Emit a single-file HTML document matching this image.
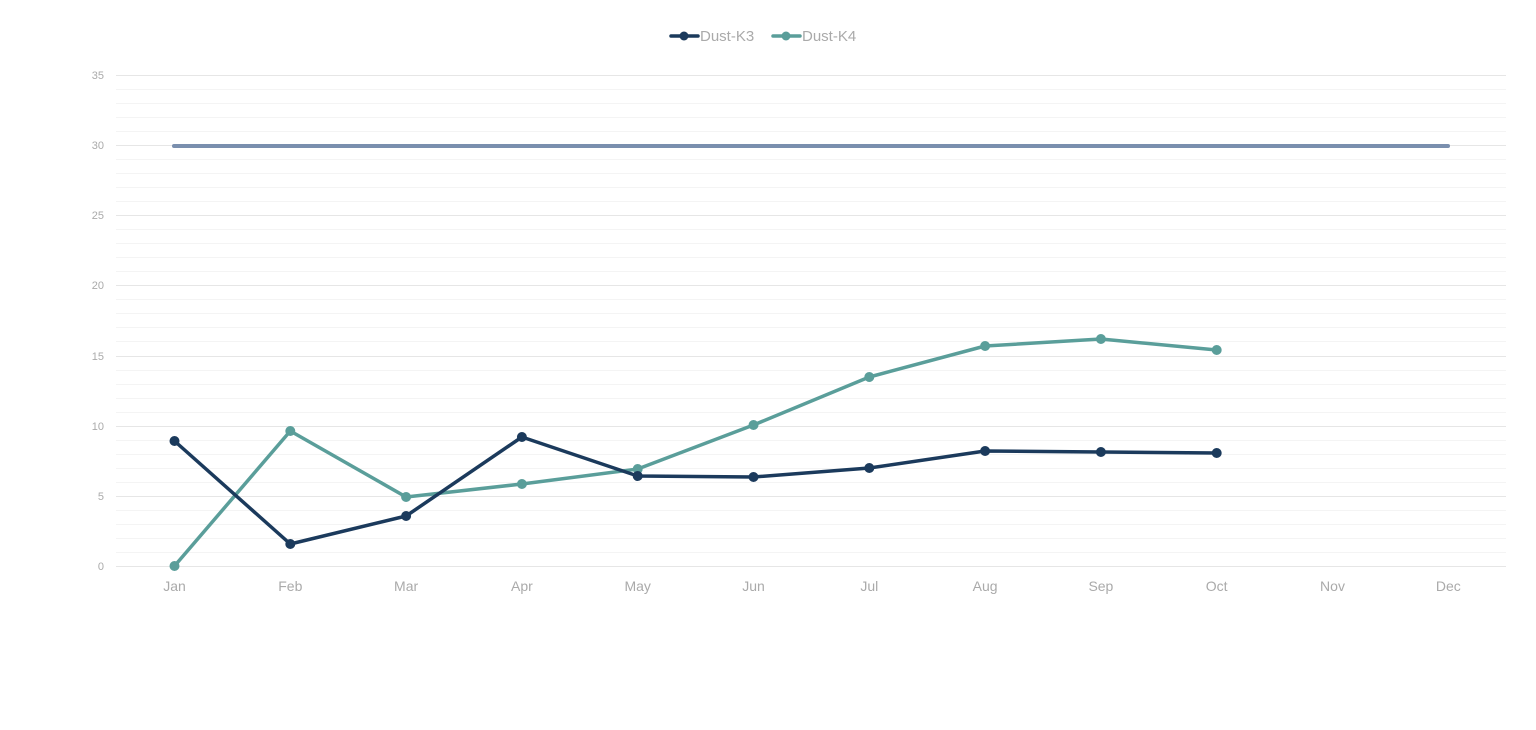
<!DOCTYPE html>
<html><head><meta charset="utf-8"><style>
html,body{margin:0;padding:0;background:#fff;}
svg{display:block;font-family:"Liberation Sans",sans-serif;}
</style></head><body>
<svg width="1536" height="730" viewBox="0 0 1536 730">
<g stroke="#f4f4f4" stroke-width="1">
<line x1="116" x2="1506" y1="89.5" y2="89.5"/><line x1="116" x2="1506" y1="103.5" y2="103.5"/><line x1="116" x2="1506" y1="117.5" y2="117.5"/><line x1="116" x2="1506" y1="131.5" y2="131.5"/>
<line x1="116" x2="1506" y1="159.5" y2="159.5"/><line x1="116" x2="1506" y1="173.5" y2="173.5"/><line x1="116" x2="1506" y1="187.5" y2="187.5"/><line x1="116" x2="1506" y1="201.5" y2="201.5"/>
<line x1="116" x2="1506" y1="229.5" y2="229.5"/><line x1="116" x2="1506" y1="243.5" y2="243.5"/><line x1="116" x2="1506" y1="257.5" y2="257.5"/><line x1="116" x2="1506" y1="271.5" y2="271.5"/>
<line x1="116" x2="1506" y1="299.5" y2="299.5"/><line x1="116" x2="1506" y1="313.5" y2="313.5"/><line x1="116" x2="1506" y1="327.5" y2="327.5"/><line x1="116" x2="1506" y1="341.5" y2="341.5"/>
<line x1="116" x2="1506" y1="370.5" y2="370.5"/><line x1="116" x2="1506" y1="384.5" y2="384.5"/><line x1="116" x2="1506" y1="398.5" y2="398.5"/><line x1="116" x2="1506" y1="412.5" y2="412.5"/>
<line x1="116" x2="1506" y1="440.5" y2="440.5"/><line x1="116" x2="1506" y1="454.5" y2="454.5"/><line x1="116" x2="1506" y1="468.5" y2="468.5"/><line x1="116" x2="1506" y1="482.5" y2="482.5"/>
<line x1="116" x2="1506" y1="510.5" y2="510.5"/><line x1="116" x2="1506" y1="524.5" y2="524.5"/><line x1="116" x2="1506" y1="538.5" y2="538.5"/><line x1="116" x2="1506" y1="552.5" y2="552.5"/>
</g>
<g stroke="#e6e6e6" stroke-width="1">
<line x1="116" x2="1506" y1="75.5" y2="75.5"/><line x1="116" x2="1506" y1="145.5" y2="145.5"/><line x1="116" x2="1506" y1="215.5" y2="215.5"/><line x1="116" x2="1506" y1="285.5" y2="285.5"/><line x1="116" x2="1506" y1="356.5" y2="356.5"/><line x1="116" x2="1506" y1="426.5" y2="426.5"/><line x1="116" x2="1506" y1="496.5" y2="496.5"/><line x1="116" x2="1506" y1="566.5" y2="566.5"/>
</g>
<g fill="#aaa" font-size="11" text-anchor="end">
<text x="104" y="79">35</text><text x="104" y="149">30</text><text x="104" y="219">25</text><text x="104" y="289">20</text><text x="104" y="360">15</text><text x="104" y="430">10</text><text x="104" y="500">5</text><text x="104" y="570">0</text>
</g>
<g fill="#aaa" font-size="14" text-anchor="middle">
<text x="174.5" y="591">Jan</text><text x="290.3" y="591">Feb</text><text x="406.1" y="591">Mar</text><text x="521.9" y="591">Apr</text><text x="637.7" y="591">May</text><text x="753.5" y="591">Jun</text><text x="869.3" y="591">Jul</text><text x="985.1" y="591">Aug</text><text x="1100.9" y="591">Sep</text><text x="1216.7" y="591">Oct</text><text x="1332.5" y="591">Nov</text><text x="1448.3" y="591">Dec</text>
</g>
<line x1="174" y1="146" x2="1448" y2="146" stroke="#7a8fae" stroke-width="4" stroke-linecap="round"/>
<polyline fill="none" stroke="#5a9e9a" stroke-width="3.5" stroke-linejoin="round" points="174.5,566 290.3,431 406.1,497 521.9,484 637.7,469 753.5,425 869.3,377 985.1,346 1100.9,339 1216.7,350"/>
<g fill="#5a9e9a"><circle cx="174.5" cy="566" r="5"/><circle cx="290.3" cy="431" r="5"/><circle cx="406.1" cy="497" r="5"/><circle cx="521.9" cy="484" r="5"/><circle cx="637.7" cy="469" r="5"/><circle cx="753.5" cy="425" r="5"/><circle cx="869.3" cy="377" r="5"/><circle cx="985.1" cy="346" r="5"/><circle cx="1100.9" cy="339" r="5"/><circle cx="1216.7" cy="350" r="5"/></g>
<polyline fill="none" stroke="#1b3a5c" stroke-width="3.5" stroke-linejoin="round" points="174.5,441 290.3,544 406.1,516 521.9,437 637.7,476 753.5,477 869.3,468 985.1,451 1100.9,452 1216.7,453"/>
<g fill="#1b3a5c"><circle cx="174.5" cy="441" r="5"/><circle cx="290.3" cy="544" r="5"/><circle cx="406.1" cy="516" r="5"/><circle cx="521.9" cy="437" r="5"/><circle cx="637.7" cy="476" r="5"/><circle cx="753.5" cy="477" r="5"/><circle cx="869.3" cy="468" r="5"/><circle cx="985.1" cy="451" r="5"/><circle cx="1100.9" cy="452" r="5"/><circle cx="1216.7" cy="453" r="5"/></g>
<line x1="671" y1="36" x2="698" y2="36" stroke="#1b3a5c" stroke-width="3.5" stroke-linecap="round"/><circle cx="684" cy="36" r="4.5" fill="#1b3a5c"/>
<text x="700" y="41" font-size="15" fill="#aaa">Dust-K3</text>
<line x1="773" y1="36" x2="800" y2="36" stroke="#5a9e9a" stroke-width="3.5" stroke-linecap="round"/><circle cx="786" cy="36" r="4.5" fill="#5a9e9a"/>
<text x="802" y="41" font-size="15" fill="#aaa">Dust-K4</text>
</svg>
</body></html>
